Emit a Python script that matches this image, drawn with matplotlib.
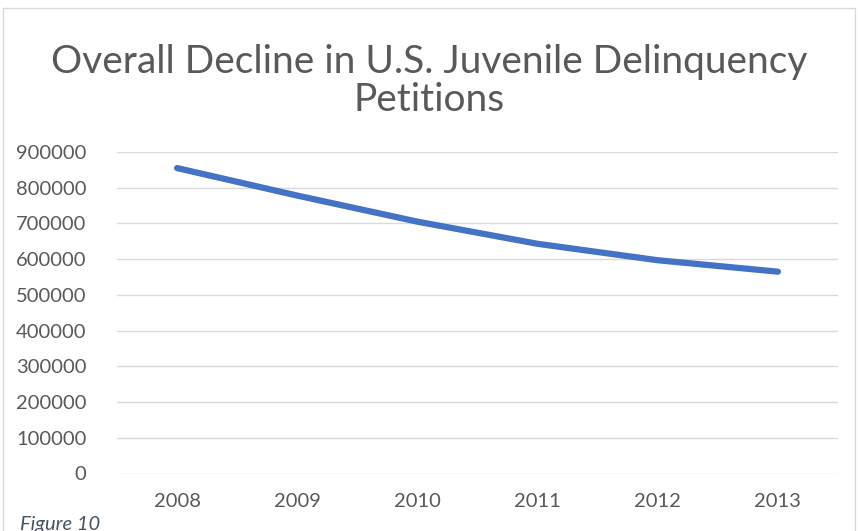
import matplotlib
matplotlib.use('Agg')
import matplotlib.pyplot as plt
from matplotlib.patches import Rectangle

# petitioned delinquency cases per year
years = ['2008', '2009', '2010', '2011', '2012', '2013']
petitions = [855000, 778000, 705000, 643000, 597000, 565000]
y_ticks = [0, 100000, 200000, 300000, 400000, 500000, 600000, 700000, 800000, 900000]

W, H = 858, 531
fig = plt.figure(figsize=(W / 100, H / 100), dpi=100)

# chart frame (bottom edge runs off the page)
fig.patches.append(Rectangle((3 / W, -0.1), (855 - 3) / W, 1.1 - 8 / H,
                             transform=fig.transFigure, fill=False,
                             edgecolor='#D9D9D9', linewidth=1.0))

ax = fig.add_axes([117 / W, 1 - 473.5 / H, (838 - 117) / W, (473.5 - 152) / H])

x = list(range(len(years)))
ax.plot(x, petitions, color='#4472C4', linewidth=4.5,
        solid_capstyle='round', solid_joinstyle='round', zorder=3)

ax.set_xlim(-0.5, len(years) - 0.5)
ax.set_ylim(0, 900000)
ax.set_yticks(y_ticks)
ax.set_yticklabels([str(v) for v in y_ticks])
ax.set_xticks(x)
ax.set_xticklabels(years)

ax.grid(axis='y', color='#D9D9D9', linewidth=1.0)
ax.set_axisbelow(True)
for s in ax.spines.values():
    s.set_visible(False)
ax.tick_params(length=0, labelsize=14.5, labelcolor='#595959')
ax.tick_params(axis='y', pad=22)
ax.tick_params(axis='x', pad=14)
for lab in ax.get_xticklabels() + ax.get_yticklabels():
    lab.set_family('Lato')

fig.text(0.5, 1 - 81 / H, 'Overall Decline in U.S. Juvenile Delinquency\nPetitions',
         ha='center', va='center', fontsize=28, color='#595959',
         family='Lato', linespacing=1.05)

fig.text(20 / W, 1 - 516 / H, 'Figure 10', ha='left', va='top',
         fontsize=14.5, style='italic', color='#44546A', family='Lato')

fig.savefig('out.png', dpi=100)
